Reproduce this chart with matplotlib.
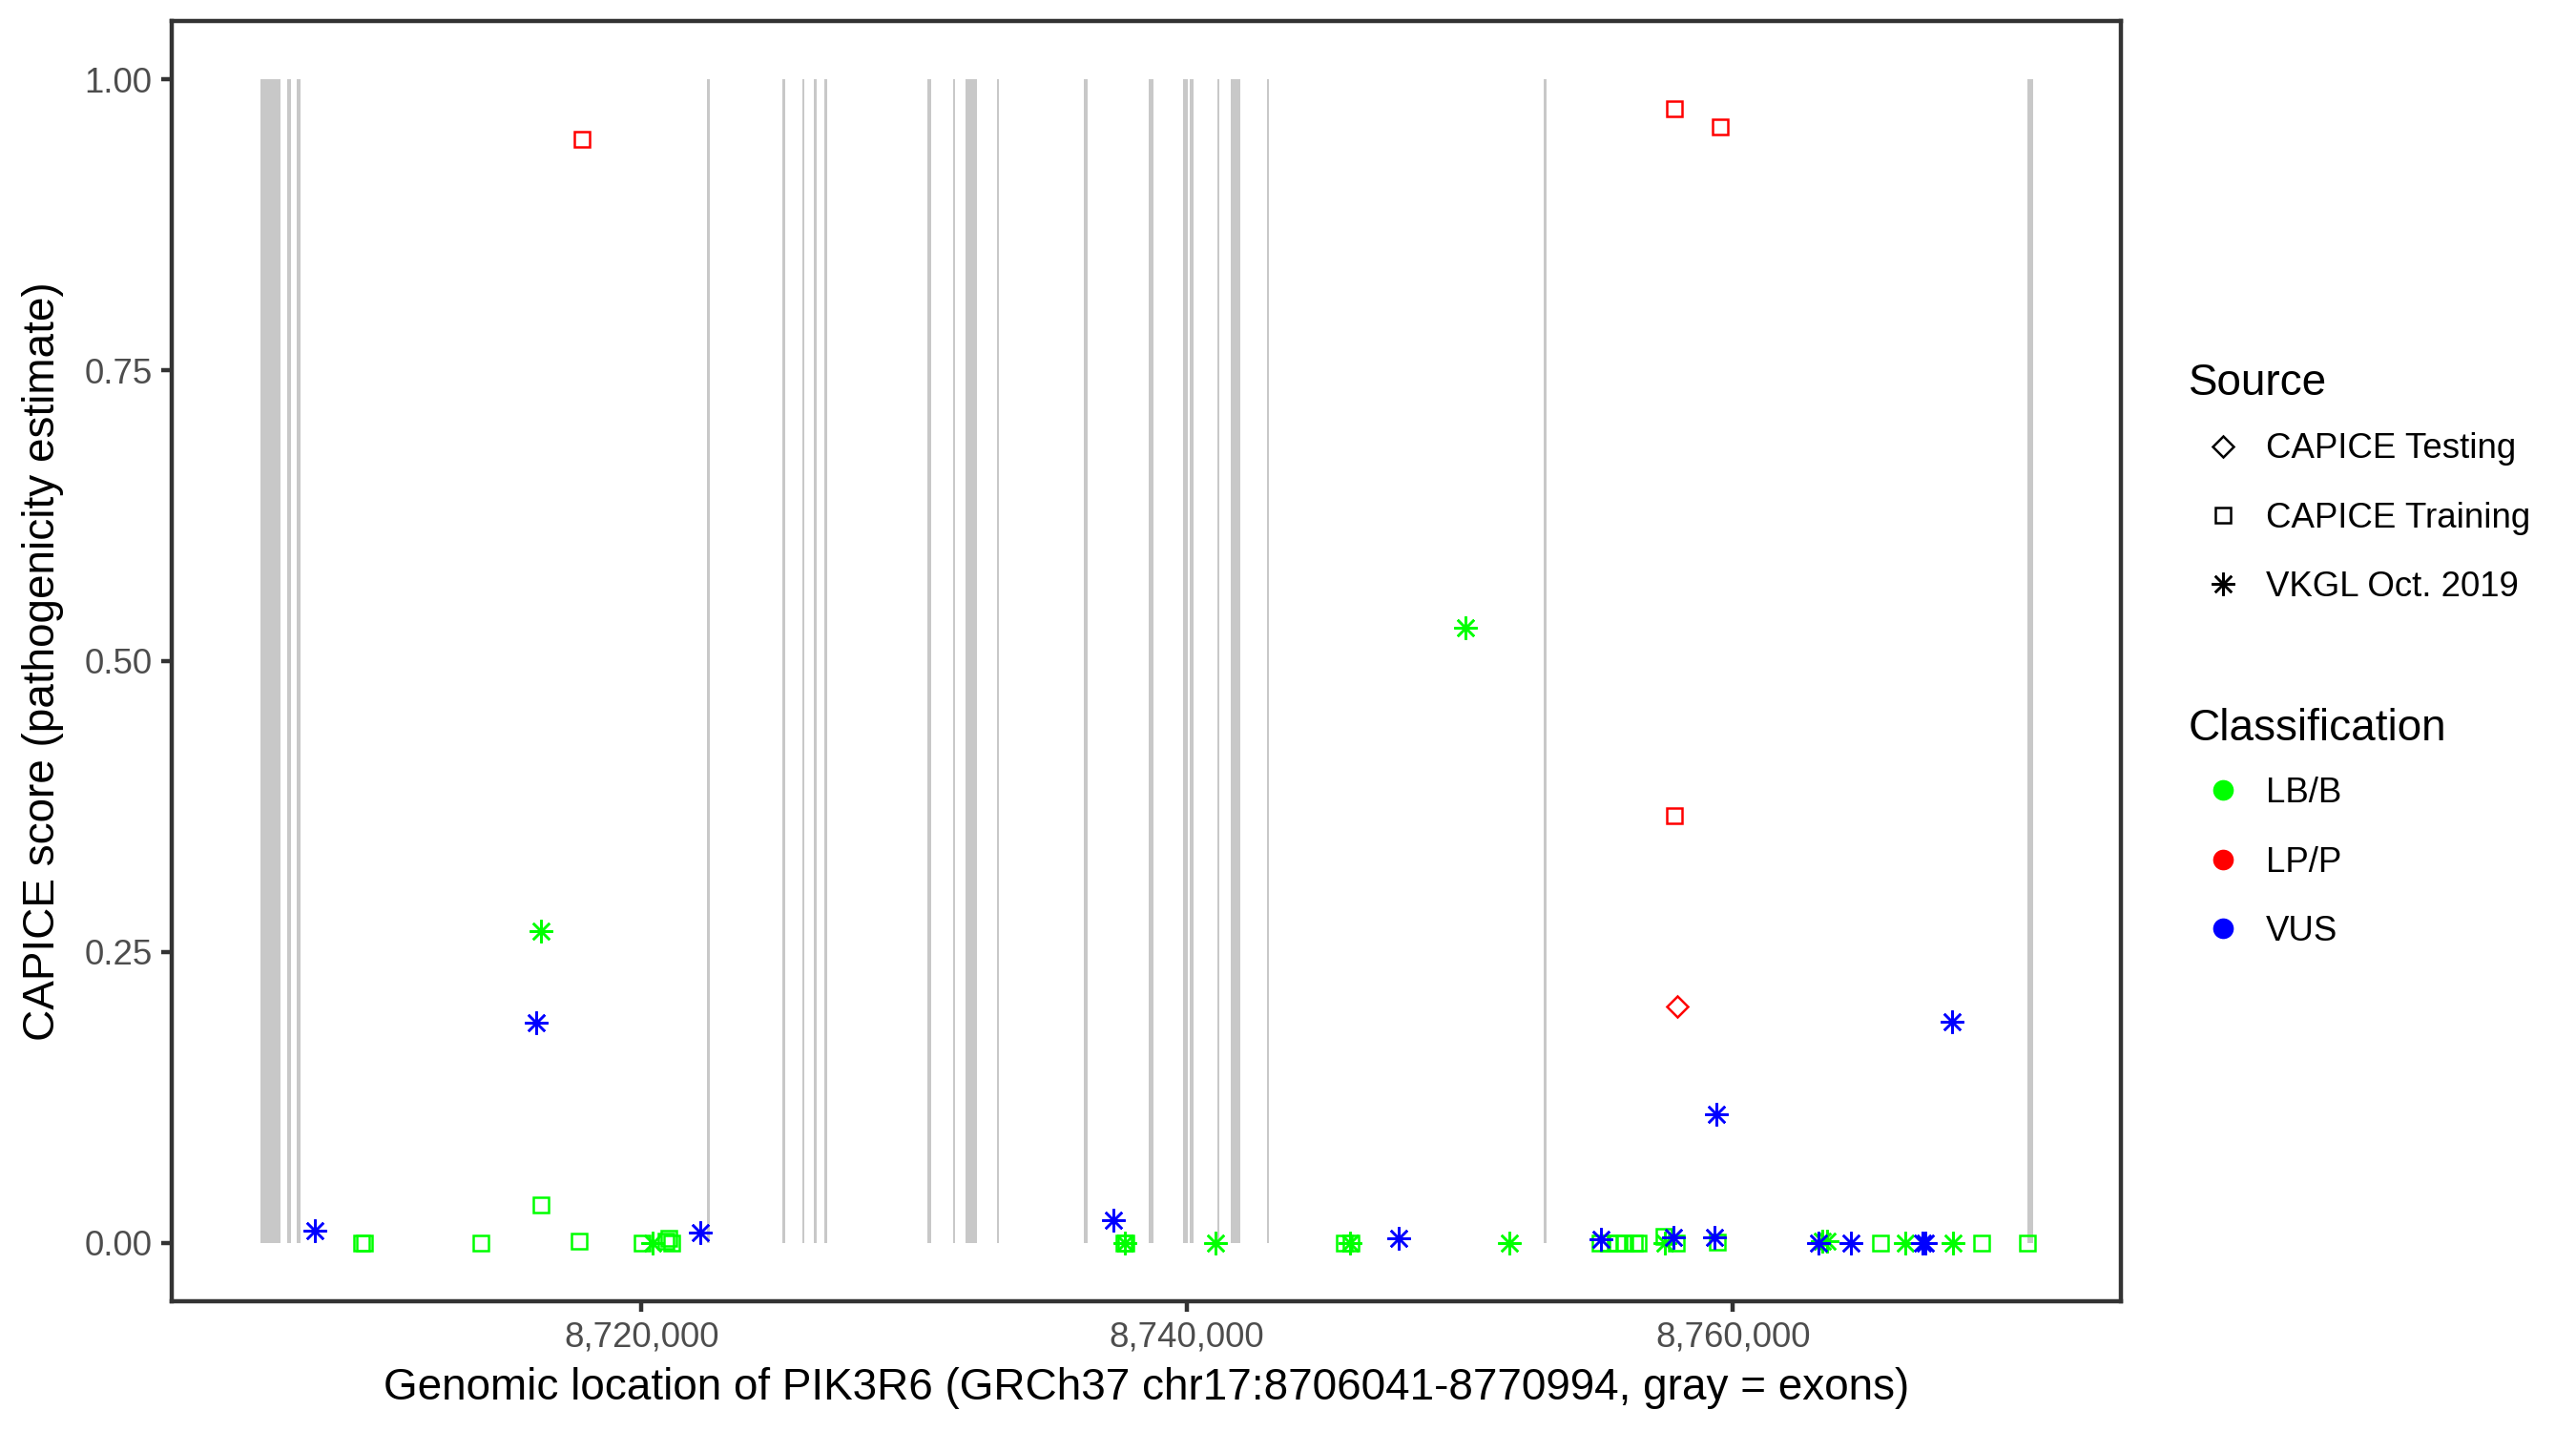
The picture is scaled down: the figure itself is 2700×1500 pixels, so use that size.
import matplotlib
matplotlib.use("Agg")
import matplotlib.pyplot as plt
from matplotlib.lines import Line2D
from matplotlib.ticker import FuncFormatter

plt.rcParams['font.family'] = ['Liberation Sans', 'DejaVu Sans']

# gene region (GRCh37)
gene_start = 8706041
gene_end = 8770994

# exons
exon_start = [8706041, 8707030, 8707379, 8722412, 8725174, 8725908, 8726328,
              8726712, 8730488, 8731432, 8731886, 8733040, 8736221, 8738599,
              8739857, 8740102, 8741116, 8741605, 8742934, 8753072, 8770797]
exon_end = [8706785, 8707170, 8707519, 8722517, 8725279, 8725978, 8726433,
            8726817, 8730628, 8731502, 8732306, 8733110, 8736361, 8738774,
            8740032, 8740242, 8741186, 8741955, 8743004, 8753177, 8770994]

# variants: position, CAPICE score, source, classification
var_pos = [8717818, 8757851, 8759539, 8750206, 8757851, 8716312, 8716133,
           8757966, 8759417, 8768025, 8716312, 8708019, 8709739, 8709862,
           8714127, 8717738, 8720035, 8720396, 8720900, 8721003, 8721119,
           8722144, 8737294, 8737700, 8737770, 8737736, 8741057, 8745755,
           8746021, 8745975, 8747758, 8751825, 8755158, 8755145, 8755449,
           8755764, 8756054, 8756404, 8756544, 8757477, 8757942, 8757512,
           8757826, 8759320, 8759434, 8763140, 8763280, 8763450, 8764329,
           8765402, 8766311, 8766951, 8767050, 8768060, 8769130, 8770800]
var_score = [0.948, 0.975, 0.959, 0.529, 0.367, 0.268, 0.189,
             0.203, 0.111, 0.190, 0.033, 0.011, 0.000, 0.000,
             0.000, 0.002, 0.000, 0.000, 0.002, 0.004, 0.000,
             0.009, 0.020, 0.000, 0.000, 0.000, 0.000, 0.000,
             0.000, 0.000, 0.004, 0.000, 0.003, 0.000, 0.000,
             0.000, 0.000, 0.000, 0.000, 0.006, 0.000, 0.000,
             0.005, 0.005, 0.001, 0.000, 0.002, 0.002, 0.000,
             0.000, 0.000, 0.000, 0.000, 0.000, 0.000, 0.000]
TR, TE, VK = "CAPICE Training", "CAPICE Testing", "VKGL Oct. 2019"
var_source = [TR, TR, TR, VK, TR, VK, VK,
              TE, VK, VK, TR, VK, TR, TR,
              TR, TR, TR, VK, TR, TR, TR,
              VK, VK, TR, TR, VK, VK, TR,
              TR, VK, VK, VK, VK, TR, TR,
              TR, TR, TR, TR, TR, TR, VK,
              VK, VK, TR, VK, VK, VK, VK,
              TR, VK, VK, VK, VK, TR, TR]
var_class = ["LP/P", "LP/P", "LP/P", "LB/B", "LP/P", "LB/B", "VUS",
             "LP/P", "VUS", "VUS", "LB/B", "VUS", "LB/B", "LB/B",
             "LB/B", "LB/B", "LB/B", "LB/B", "LB/B", "LB/B", "LB/B",
             "VUS", "VUS", "LB/B", "LB/B", "LB/B", "LB/B", "LB/B",
             "LB/B", "LB/B", "VUS", "LB/B", "VUS", "LB/B", "LB/B",
             "LB/B", "LB/B", "LB/B", "LB/B", "LB/B", "LB/B", "LB/B",
             "VUS", "VUS", "LB/B", "VUS", "LB/B", "LB/B", "VUS",
             "LB/B", "LB/B", "VUS", "VUS", "LB/B", "LB/B", "LB/B"]

source_order = [TE, TR, VK]
class_order = ["LB/B", "LP/P", "VUS"]
source_markers = {TE: ("D", 3.8), TR: ("s", 3.9), VK: ((8, 2, 0), 5.8)}
class_colors = {"LB/B": "#00FF00", "LP/P": "#FF0000", "VUS": "#0000FF"}
edge_w = 0.6

fig = plt.figure(figsize=(9, 5), dpi=300)
ax = fig.add_axes([0.0667, 0.0907, 0.7568, 0.8946])

# exons as gray bands from 0 to 1
ax.bar(exon_start, [1] * len(exon_start),
       width=[e - s for s, e in zip(exon_start, exon_end)],
       bottom=0, align='edge', color='#C8C8C8', linewidth=0, zorder=1)

for cls in class_order:
    for src in source_order:
        xs = [p for p, s, c in zip(var_pos, var_source, var_class) if s == src and c == cls]
        ys = [v for v, s, c in zip(var_score, var_source, var_class) if s == src and c == cls]
        if not xs:
            continue
        m, ms = source_markers[src]
        ax.plot(xs, ys, linestyle='none', marker=m, ms=ms, mfc='none',
                mec=class_colors[cls], mew=edge_w, zorder=3)

pad = 0.05 * (gene_end - gene_start)
ax.set_xlim(gene_start - pad, gene_end + pad)
ax.set_ylim(-0.05, 1.05)
ax.set_xticks([8720000, 8740000, 8760000])
ax.xaxis.set_major_formatter(FuncFormatter(lambda v, p: f"{int(v):,}"))
ax.set_yticks([0, 0.25, 0.5, 0.75, 1.0])
ax.yaxis.set_major_formatter(FuncFormatter(lambda v, p: f"{v:.2f}"))

for sp in ax.spines.values():
    sp.set_color('#333333')
    sp.set_linewidth(1.07)
ax.tick_params(length=2.75, width=1.07, color='#333333', labelsize=8.8,
               labelcolor='#4D4D4D', pad=2.2)

ax.set_xlabel("Genomic location of PIK3R6 (GRCh37 chr17:8706041-8770994, gray = exons)",
              fontsize=11, labelpad=3.2)
ax.set_ylabel("CAPICE score (pathogenicity estimate)", fontsize=11, labelpad=5.0)

# legends (titles drawn as separate text so spacing can follow the reference)
leg_kw = dict(loc='upper left', bbox_transform=fig.transFigure, frameon=False,
              fontsize=8.8, handlelength=1.96, handletextpad=0.25,
              labelspacing=1.02, borderpad=0, borderaxespad=0)
leg_left = 0.8496

src_handles = [Line2D([], [], linestyle='none', marker=source_markers[s][0],
                      ms=source_markers[s][1], mfc='none', mec='black', mew=edge_w)
               for s in source_order]
fig.text(leg_left, 0.7323, "Source", fontsize=11, va='center', ha='left')
leg1 = ax.legend(src_handles, source_order, bbox_to_anchor=(leg_left, 0.6977), **leg_kw)
ax.add_artist(leg1)

cls_handles = [Line2D([], [], linestyle='none', marker='o', ms=5.2,
                      mfc=class_colors[c], mec=class_colors[c], mew=0)
               for c in class_order]
fig.text(leg_left, 0.4905, "Classification", fontsize=11, va='center', ha='left')
ax.legend(cls_handles, class_order, bbox_to_anchor=(leg_left, 0.4572), **leg_kw)

fig.savefig("out.png", dpi=300)
